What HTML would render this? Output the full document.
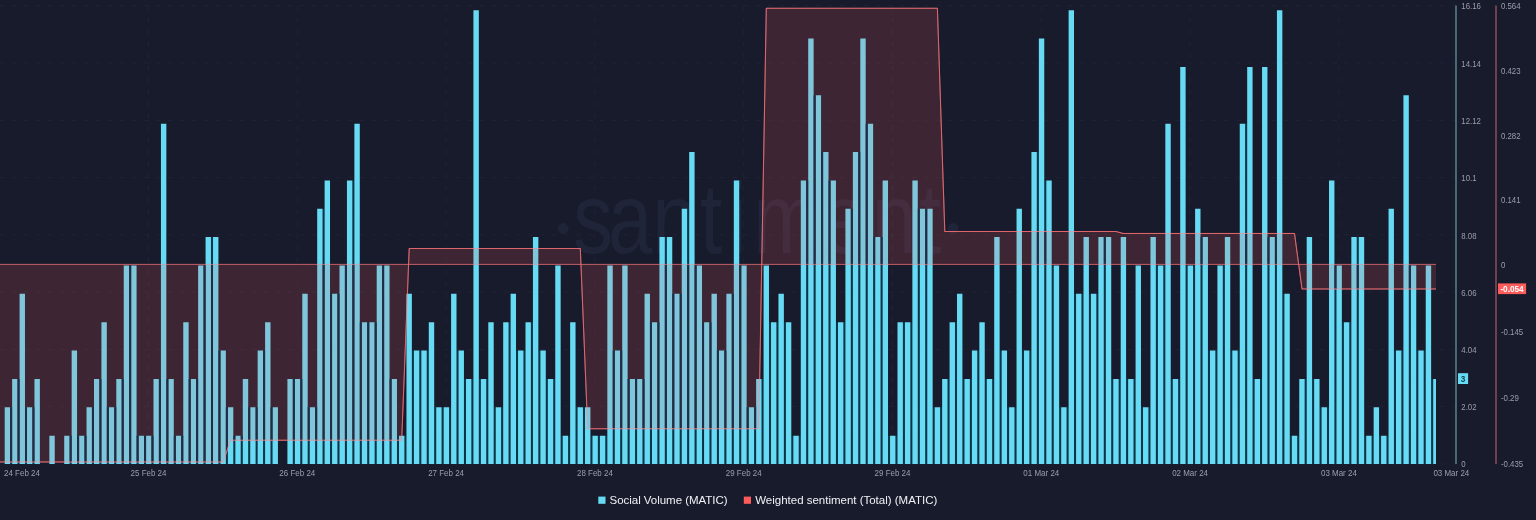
<!DOCTYPE html>
<html lang="en">
<head>
<meta charset="utf-8">
<title>Social Volume and Weighted sentiment (MATIC)</title>
<style>
html,body{margin:0;padding:0;background:#181b2b;}
body{width:1536px;height:520px;overflow:hidden;}
</style>
</head>
<body>
<svg width="1536" height="520" viewBox="0 0 1536 520" style="display:block">
<rect width="1536" height="520" fill="#181b2b"/>
<g stroke="#1f2336" stroke-width="1" stroke-dasharray="5 7" fill="none"><line x1="0" x2="1456" y1="464.0" y2="464.0"/><line x1="0" x2="1456" y1="406.7" y2="406.7"/><line x1="0" x2="1456" y1="349.4" y2="349.4"/><line x1="0" x2="1456" y1="292.1" y2="292.1"/><line x1="0" x2="1456" y1="234.9" y2="234.9"/><line x1="0" x2="1456" y1="177.6" y2="177.6"/><line x1="0" x2="1456" y1="120.3" y2="120.3"/><line x1="0" x2="1456" y1="63.0" y2="63.0"/><line x1="0" x2="1456" y1="5.7" y2="5.7"/><line x1="148.5" x2="148.5" y1="5.5" y2="464"/><line x1="297.3" x2="297.3" y1="5.5" y2="464"/><line x1="446.1" x2="446.1" y1="5.5" y2="464"/><line x1="594.9" x2="594.9" y1="5.5" y2="464"/><line x1="743.7" x2="743.7" y1="5.5" y2="464"/><line x1="892.5" x2="892.5" y1="5.5" y2="464"/><line x1="1041.3" x2="1041.3" y1="5.5" y2="464"/><line x1="1190.1" x2="1190.1" y1="5.5" y2="464"/><line x1="1338.9" x2="1338.9" y1="5.5" y2="464"/></g>
<g id="wm" fill="#202439" font-family="'Liberation Sans', sans-serif"><text x="563.3" y="242" font-size="40" text-anchor="middle">•</text><text transform="scale(0.8,1)" x="716.2 760.0 815.0 875.0 911.2 941.2 1027.5 1090.0 1148.8" y="253" font-size="100">santiment</text><text x="953" y="242" font-size="40" text-anchor="middle">•</text></g>
<path id="gaps" fill="#0a344a" d="M10.10 464.0v-56.72h2.04v56.72zM17.54 464.0v-85.08h2.04v85.08zM24.98 464.0v-56.72h2.04v56.72zM32.42 464.0v-56.72h2.04v56.72zM69.62 464.0v-28.36h2.04v28.36zM77.06 464.0v-28.36h2.04v28.36zM84.50 464.0v-28.36h2.04v28.36zM91.94 464.0v-56.72h2.04v56.72zM99.38 464.0v-85.08h2.04v85.08zM106.82 464.0v-56.72h2.04v56.72zM114.26 464.0v-56.72h2.04v56.72zM121.70 464.0v-85.08h2.04v85.08zM129.14 464.0v-198.52h2.04v198.52zM136.58 464.0v-28.36h2.04v28.36zM144.02 464.0v-28.36h2.04v28.36zM151.46 464.0v-28.36h2.04v28.36zM158.90 464.0v-85.08h2.04v85.08zM166.34 464.0v-85.08h2.04v85.08zM173.78 464.0v-28.36h2.04v28.36zM181.22 464.0v-28.36h2.04v28.36zM188.66 464.0v-85.08h2.04v85.08zM196.10 464.0v-85.08h2.04v85.08zM203.54 464.0v-198.52h2.04v198.52zM210.98 464.0v-226.88h2.04v226.88zM218.42 464.0v-113.44h2.04v113.44zM225.86 464.0v-56.72h2.04v56.72zM233.30 464.0v-28.36h2.04v28.36zM240.74 464.0v-28.36h2.04v28.36zM248.18 464.0v-56.72h2.04v56.72zM255.62 464.0v-56.72h2.04v56.72zM263.06 464.0v-113.44h2.04v113.44zM270.50 464.0v-56.72h2.04v56.72zM292.82 464.0v-85.08h2.04v85.08zM300.26 464.0v-85.08h2.04v85.08zM307.70 464.0v-56.72h2.04v56.72zM315.14 464.0v-56.72h2.04v56.72zM322.58 464.0v-255.24h2.04v255.24zM330.02 464.0v-170.16h2.04v170.16zM337.46 464.0v-170.16h2.04v170.16zM344.90 464.0v-198.52h2.04v198.52zM352.34 464.0v-283.60h2.04v283.60zM359.78 464.0v-141.80h2.04v141.80zM367.22 464.0v-141.80h2.04v141.80zM374.66 464.0v-141.80h2.04v141.80zM382.10 464.0v-198.52h2.04v198.52zM389.54 464.0v-85.08h2.04v85.08zM396.98 464.0v-28.36h2.04v28.36zM404.42 464.0v-28.36h2.04v28.36zM411.86 464.0v-113.44h2.04v113.44zM419.30 464.0v-113.44h2.04v113.44zM426.74 464.0v-113.44h2.04v113.44zM434.18 464.0v-56.72h2.04v56.72zM441.62 464.0v-56.72h2.04v56.72zM449.06 464.0v-56.72h2.04v56.72zM456.50 464.0v-113.44h2.04v113.44zM463.94 464.0v-85.08h2.04v85.08zM471.38 464.0v-85.08h2.04v85.08zM478.82 464.0v-85.08h2.04v85.08zM486.26 464.0v-85.08h2.04v85.08zM493.70 464.0v-56.72h2.04v56.72zM501.14 464.0v-56.72h2.04v56.72zM508.58 464.0v-141.80h2.04v141.80zM516.02 464.0v-113.44h2.04v113.44zM523.46 464.0v-113.44h2.04v113.44zM530.90 464.0v-141.80h2.04v141.80zM538.34 464.0v-113.44h2.04v113.44zM545.78 464.0v-85.08h2.04v85.08zM553.22 464.0v-85.08h2.04v85.08zM560.66 464.0v-28.36h2.04v28.36zM568.10 464.0v-28.36h2.04v28.36zM575.54 464.0v-56.72h2.04v56.72zM582.98 464.0v-56.72h2.04v56.72zM590.42 464.0v-28.36h2.04v28.36zM597.86 464.0v-28.36h2.04v28.36zM605.30 464.0v-28.36h2.04v28.36zM612.74 464.0v-113.44h2.04v113.44zM620.18 464.0v-113.44h2.04v113.44zM627.62 464.0v-85.08h2.04v85.08zM635.06 464.0v-85.08h2.04v85.08zM642.50 464.0v-85.08h2.04v85.08zM649.94 464.0v-141.80h2.04v141.80zM657.38 464.0v-141.80h2.04v141.80zM664.82 464.0v-226.88h2.04v226.88zM672.26 464.0v-170.16h2.04v170.16zM679.70 464.0v-170.16h2.04v170.16zM687.14 464.0v-255.24h2.04v255.24zM694.58 464.0v-198.52h2.04v198.52zM702.02 464.0v-141.80h2.04v141.80zM709.46 464.0v-141.80h2.04v141.80zM716.90 464.0v-113.44h2.04v113.44zM724.34 464.0v-113.44h2.04v113.44zM731.78 464.0v-170.16h2.04v170.16zM739.22 464.0v-198.52h2.04v198.52zM746.66 464.0v-56.72h2.04v56.72zM754.10 464.0v-56.72h2.04v56.72zM761.54 464.0v-85.08h2.04v85.08zM768.98 464.0v-141.80h2.04v141.80zM776.42 464.0v-141.80h2.04v141.80zM783.86 464.0v-141.80h2.04v141.80zM791.30 464.0v-28.36h2.04v28.36zM798.74 464.0v-28.36h2.04v28.36zM806.18 464.0v-283.60h2.04v283.60zM813.62 464.0v-368.68h2.04v368.68zM821.06 464.0v-311.96h2.04v311.96zM828.50 464.0v-283.60h2.04v283.60zM835.94 464.0v-141.80h2.04v141.80zM843.38 464.0v-141.80h2.04v141.80zM850.82 464.0v-255.24h2.04v255.24zM858.26 464.0v-311.96h2.04v311.96zM865.70 464.0v-340.32h2.04v340.32zM873.14 464.0v-226.88h2.04v226.88zM880.58 464.0v-226.88h2.04v226.88zM888.02 464.0v-28.36h2.04v28.36zM895.46 464.0v-28.36h2.04v28.36zM902.90 464.0v-141.80h2.04v141.80zM910.34 464.0v-141.80h2.04v141.80zM917.78 464.0v-255.24h2.04v255.24zM925.22 464.0v-255.24h2.04v255.24zM932.66 464.0v-56.72h2.04v56.72zM940.10 464.0v-56.72h2.04v56.72zM947.54 464.0v-85.08h2.04v85.08zM954.98 464.0v-141.80h2.04v141.80zM962.42 464.0v-85.08h2.04v85.08zM969.86 464.0v-85.08h2.04v85.08zM977.30 464.0v-113.44h2.04v113.44zM984.74 464.0v-85.08h2.04v85.08zM992.18 464.0v-85.08h2.04v85.08zM999.62 464.0v-113.44h2.04v113.44zM1007.06 464.0v-56.72h2.04v56.72zM1014.50 464.0v-56.72h2.04v56.72zM1021.94 464.0v-113.44h2.04v113.44zM1029.38 464.0v-113.44h2.04v113.44zM1036.82 464.0v-311.96h2.04v311.96zM1044.26 464.0v-283.60h2.04v283.60zM1051.70 464.0v-198.52h2.04v198.52zM1059.14 464.0v-56.72h2.04v56.72zM1066.58 464.0v-56.72h2.04v56.72zM1074.02 464.0v-170.16h2.04v170.16zM1081.46 464.0v-170.16h2.04v170.16zM1088.90 464.0v-170.16h2.04v170.16zM1096.34 464.0v-170.16h2.04v170.16zM1103.78 464.0v-226.88h2.04v226.88zM1111.22 464.0v-85.08h2.04v85.08zM1118.66 464.0v-85.08h2.04v85.08zM1126.10 464.0v-85.08h2.04v85.08zM1133.54 464.0v-85.08h2.04v85.08zM1140.98 464.0v-56.72h2.04v56.72zM1148.42 464.0v-56.72h2.04v56.72zM1155.86 464.0v-198.52h2.04v198.52zM1163.30 464.0v-198.52h2.04v198.52zM1170.74 464.0v-85.08h2.04v85.08zM1178.18 464.0v-85.08h2.04v85.08zM1185.62 464.0v-198.52h2.04v198.52zM1193.06 464.0v-198.52h2.04v198.52zM1200.50 464.0v-226.88h2.04v226.88zM1207.94 464.0v-113.44h2.04v113.44zM1215.38 464.0v-113.44h2.04v113.44zM1222.82 464.0v-198.52h2.04v198.52zM1230.26 464.0v-113.44h2.04v113.44zM1237.70 464.0v-113.44h2.04v113.44zM1245.14 464.0v-340.32h2.04v340.32zM1252.58 464.0v-85.08h2.04v85.08zM1260.02 464.0v-85.08h2.04v85.08zM1267.46 464.0v-226.88h2.04v226.88zM1274.90 464.0v-226.88h2.04v226.88zM1282.34 464.0v-170.16h2.04v170.16zM1289.78 464.0v-28.36h2.04v28.36zM1297.22 464.0v-28.36h2.04v28.36zM1304.66 464.0v-85.08h2.04v85.08zM1312.10 464.0v-85.08h2.04v85.08zM1319.54 464.0v-56.72h2.04v56.72zM1326.98 464.0v-56.72h2.04v56.72zM1334.42 464.0v-198.52h2.04v198.52zM1341.86 464.0v-141.80h2.04v141.80zM1349.30 464.0v-141.80h2.04v141.80zM1356.74 464.0v-226.88h2.04v226.88zM1364.18 464.0v-28.36h2.04v28.36zM1371.62 464.0v-28.36h2.04v28.36zM1379.06 464.0v-28.36h2.04v28.36zM1386.50 464.0v-28.36h2.04v28.36zM1393.94 464.0v-113.44h2.04v113.44zM1401.38 464.0v-113.44h2.04v113.44zM1408.82 464.0v-198.52h2.04v198.52zM1416.26 464.0v-113.44h2.04v113.44zM1423.70 464.0v-113.44h2.04v113.44zM1431.14 464.0v-85.08h2.04v85.08z"/>
<clipPath id="nb"><path clip-rule="evenodd" d="M0 0H1536V520H0ZM4.70 464.0v-56.72h5.40v56.72zM12.14 464.0v-85.08h5.40v85.08zM19.58 464.0v-170.16h5.40v170.16zM27.02 464.0v-56.72h5.40v56.72zM34.46 464.0v-85.08h5.40v85.08zM49.34 464.0v-28.36h5.40v28.36zM64.22 464.0v-28.36h5.40v28.36zM71.66 464.0v-113.44h5.40v113.44zM79.10 464.0v-28.36h5.40v28.36zM86.54 464.0v-56.72h5.40v56.72zM93.98 464.0v-85.08h5.40v85.08zM101.42 464.0v-141.80h5.40v141.80zM108.86 464.0v-56.72h5.40v56.72zM116.30 464.0v-85.08h5.40v85.08zM123.74 464.0v-198.52h5.40v198.52zM131.18 464.0v-198.52h5.40v198.52zM138.62 464.0v-28.36h5.40v28.36zM146.06 464.0v-28.36h5.40v28.36zM153.50 464.0v-85.08h5.40v85.08zM160.94 464.0v-340.32h5.40v340.32zM168.38 464.0v-85.08h5.40v85.08zM175.82 464.0v-28.36h5.40v28.36zM183.26 464.0v-141.80h5.40v141.80zM190.70 464.0v-85.08h5.40v85.08zM198.14 464.0v-198.52h5.40v198.52zM205.58 464.0v-226.88h5.40v226.88zM213.02 464.0v-226.88h5.40v226.88zM220.46 464.0v-113.44h5.40v113.44zM227.90 464.0v-56.72h5.40v56.72zM235.34 464.0v-28.36h5.40v28.36zM242.78 464.0v-85.08h5.40v85.08zM250.22 464.0v-56.72h5.40v56.72zM257.66 464.0v-113.44h5.40v113.44zM265.10 464.0v-141.80h5.40v141.80zM272.54 464.0v-56.72h5.40v56.72zM287.42 464.0v-85.08h5.40v85.08zM294.86 464.0v-85.08h5.40v85.08zM302.30 464.0v-170.16h5.40v170.16zM309.74 464.0v-56.72h5.40v56.72zM317.18 464.0v-255.24h5.40v255.24zM324.62 464.0v-283.60h5.40v283.60zM332.06 464.0v-170.16h5.40v170.16zM339.50 464.0v-198.52h5.40v198.52zM346.94 464.0v-283.60h5.40v283.60zM354.38 464.0v-340.32h5.40v340.32zM361.82 464.0v-141.80h5.40v141.80zM369.26 464.0v-141.80h5.40v141.80zM376.70 464.0v-198.52h5.40v198.52zM384.14 464.0v-198.52h5.40v198.52zM391.58 464.0v-85.08h5.40v85.08zM399.02 464.0v-28.36h5.40v28.36zM406.46 464.0v-170.16h5.40v170.16zM413.90 464.0v-113.44h5.40v113.44zM421.34 464.0v-113.44h5.40v113.44zM428.78 464.0v-141.80h5.40v141.80zM436.22 464.0v-56.72h5.40v56.72zM443.66 464.0v-56.72h5.40v56.72zM451.10 464.0v-170.16h5.40v170.16zM458.54 464.0v-113.44h5.40v113.44zM465.98 464.0v-85.08h5.40v85.08zM473.42 464.0v-453.76h5.40v453.76zM480.86 464.0v-85.08h5.40v85.08zM488.30 464.0v-141.80h5.40v141.80zM495.74 464.0v-56.72h5.40v56.72zM503.18 464.0v-141.80h5.40v141.80zM510.62 464.0v-170.16h5.40v170.16zM518.06 464.0v-113.44h5.40v113.44zM525.50 464.0v-141.80h5.40v141.80zM532.94 464.0v-226.88h5.40v226.88zM540.38 464.0v-113.44h5.40v113.44zM547.82 464.0v-85.08h5.40v85.08zM555.26 464.0v-198.52h5.40v198.52zM562.70 464.0v-28.36h5.40v28.36zM570.14 464.0v-141.80h5.40v141.80zM577.58 464.0v-56.72h5.40v56.72zM585.02 464.0v-56.72h5.40v56.72zM592.46 464.0v-28.36h5.40v28.36zM599.90 464.0v-28.36h5.40v28.36zM607.34 464.0v-198.52h5.40v198.52zM614.78 464.0v-113.44h5.40v113.44zM622.22 464.0v-198.52h5.40v198.52zM629.66 464.0v-85.08h5.40v85.08zM637.10 464.0v-85.08h5.40v85.08zM644.54 464.0v-170.16h5.40v170.16zM651.98 464.0v-141.80h5.40v141.80zM659.42 464.0v-226.88h5.40v226.88zM666.86 464.0v-226.88h5.40v226.88zM674.30 464.0v-170.16h5.40v170.16zM681.74 464.0v-255.24h5.40v255.24zM689.18 464.0v-311.96h5.40v311.96zM696.62 464.0v-198.52h5.40v198.52zM704.06 464.0v-141.80h5.40v141.80zM711.50 464.0v-170.16h5.40v170.16zM718.94 464.0v-113.44h5.40v113.44zM726.38 464.0v-170.16h5.40v170.16zM733.82 464.0v-283.60h5.40v283.60zM741.26 464.0v-198.52h5.40v198.52zM748.70 464.0v-56.72h5.40v56.72zM756.14 464.0v-85.08h5.40v85.08zM763.58 464.0v-198.52h5.40v198.52zM771.02 464.0v-141.80h5.40v141.80zM778.46 464.0v-170.16h5.40v170.16zM785.90 464.0v-141.80h5.40v141.80zM793.34 464.0v-28.36h5.40v28.36zM800.78 464.0v-283.60h5.40v283.60zM808.22 464.0v-425.40h5.40v425.40zM815.66 464.0v-368.68h5.40v368.68zM823.10 464.0v-311.96h5.40v311.96zM830.54 464.0v-283.60h5.40v283.60zM837.98 464.0v-141.80h5.40v141.80zM845.42 464.0v-255.24h5.40v255.24zM852.86 464.0v-311.96h5.40v311.96zM860.30 464.0v-425.40h5.40v425.40zM867.74 464.0v-340.32h5.40v340.32zM875.18 464.0v-226.88h5.40v226.88zM882.62 464.0v-283.60h5.40v283.60zM890.06 464.0v-28.36h5.40v28.36zM897.50 464.0v-141.80h5.40v141.80zM904.94 464.0v-141.80h5.40v141.80zM912.38 464.0v-283.60h5.40v283.60zM919.82 464.0v-255.24h5.40v255.24zM927.26 464.0v-255.24h5.40v255.24zM934.70 464.0v-56.72h5.40v56.72zM942.14 464.0v-85.08h5.40v85.08zM949.58 464.0v-141.80h5.40v141.80zM957.02 464.0v-170.16h5.40v170.16zM964.46 464.0v-85.08h5.40v85.08zM971.90 464.0v-113.44h5.40v113.44zM979.34 464.0v-141.80h5.40v141.80zM986.78 464.0v-85.08h5.40v85.08zM994.22 464.0v-226.88h5.40v226.88zM1001.66 464.0v-113.44h5.40v113.44zM1009.10 464.0v-56.72h5.40v56.72zM1016.54 464.0v-255.24h5.40v255.24zM1023.98 464.0v-113.44h5.40v113.44zM1031.42 464.0v-311.96h5.40v311.96zM1038.86 464.0v-425.40h5.40v425.40zM1046.30 464.0v-283.60h5.40v283.60zM1053.74 464.0v-198.52h5.40v198.52zM1061.18 464.0v-56.72h5.40v56.72zM1068.62 464.0v-453.76h5.40v453.76zM1076.06 464.0v-170.16h5.40v170.16zM1083.50 464.0v-226.88h5.40v226.88zM1090.94 464.0v-170.16h5.40v170.16zM1098.38 464.0v-226.88h5.40v226.88zM1105.82 464.0v-226.88h5.40v226.88zM1113.26 464.0v-85.08h5.40v85.08zM1120.70 464.0v-226.88h5.40v226.88zM1128.14 464.0v-85.08h5.40v85.08zM1135.58 464.0v-198.52h5.40v198.52zM1143.02 464.0v-56.72h5.40v56.72zM1150.46 464.0v-226.88h5.40v226.88zM1157.90 464.0v-198.52h5.40v198.52zM1165.34 464.0v-340.32h5.40v340.32zM1172.78 464.0v-85.08h5.40v85.08zM1180.22 464.0v-397.04h5.40v397.04zM1187.66 464.0v-198.52h5.40v198.52zM1195.10 464.0v-255.24h5.40v255.24zM1202.54 464.0v-226.88h5.40v226.88zM1209.98 464.0v-113.44h5.40v113.44zM1217.42 464.0v-198.52h5.40v198.52zM1224.86 464.0v-226.88h5.40v226.88zM1232.30 464.0v-113.44h5.40v113.44zM1239.74 464.0v-340.32h5.40v340.32zM1247.18 464.0v-397.04h5.40v397.04zM1254.62 464.0v-85.08h5.40v85.08zM1262.06 464.0v-397.04h5.40v397.04zM1269.50 464.0v-226.88h5.40v226.88zM1276.94 464.0v-453.76h5.40v453.76zM1284.38 464.0v-170.16h5.40v170.16zM1291.82 464.0v-28.36h5.40v28.36zM1299.26 464.0v-85.08h5.40v85.08zM1306.70 464.0v-226.88h5.40v226.88zM1314.14 464.0v-85.08h5.40v85.08zM1321.58 464.0v-56.72h5.40v56.72zM1329.02 464.0v-283.60h5.40v283.60zM1336.46 464.0v-198.52h5.40v198.52zM1343.90 464.0v-141.80h5.40v141.80zM1351.34 464.0v-226.88h5.40v226.88zM1358.78 464.0v-226.88h5.40v226.88zM1366.22 464.0v-28.36h5.40v28.36zM1373.66 464.0v-56.72h5.40v56.72zM1381.10 464.0v-28.36h5.40v28.36zM1388.54 464.0v-255.24h5.40v255.24zM1395.98 464.0v-113.44h5.40v113.44zM1403.42 464.0v-368.68h5.40v368.68zM1410.86 464.0v-198.52h5.40v198.52zM1418.30 464.0v-113.44h5.40v113.44zM1425.74 464.0v-198.52h5.40v198.52zM1433.18 464.0v-85.08h2.82v85.08z"/></clipPath>
<path id="bars" fill="#68dbf4" d="M4.70 464.0v-56.72h5.40v56.72zM12.14 464.0v-85.08h5.40v85.08zM19.58 464.0v-170.16h5.40v170.16zM27.02 464.0v-56.72h5.40v56.72zM34.46 464.0v-85.08h5.40v85.08zM49.34 464.0v-28.36h5.40v28.36zM64.22 464.0v-28.36h5.40v28.36zM71.66 464.0v-113.44h5.40v113.44zM79.10 464.0v-28.36h5.40v28.36zM86.54 464.0v-56.72h5.40v56.72zM93.98 464.0v-85.08h5.40v85.08zM101.42 464.0v-141.80h5.40v141.80zM108.86 464.0v-56.72h5.40v56.72zM116.30 464.0v-85.08h5.40v85.08zM123.74 464.0v-198.52h5.40v198.52zM131.18 464.0v-198.52h5.40v198.52zM138.62 464.0v-28.36h5.40v28.36zM146.06 464.0v-28.36h5.40v28.36zM153.50 464.0v-85.08h5.40v85.08zM160.94 464.0v-340.32h5.40v340.32zM168.38 464.0v-85.08h5.40v85.08zM175.82 464.0v-28.36h5.40v28.36zM183.26 464.0v-141.80h5.40v141.80zM190.70 464.0v-85.08h5.40v85.08zM198.14 464.0v-198.52h5.40v198.52zM205.58 464.0v-226.88h5.40v226.88zM213.02 464.0v-226.88h5.40v226.88zM220.46 464.0v-113.44h5.40v113.44zM227.90 464.0v-56.72h5.40v56.72zM235.34 464.0v-28.36h5.40v28.36zM242.78 464.0v-85.08h5.40v85.08zM250.22 464.0v-56.72h5.40v56.72zM257.66 464.0v-113.44h5.40v113.44zM265.10 464.0v-141.80h5.40v141.80zM272.54 464.0v-56.72h5.40v56.72zM287.42 464.0v-85.08h5.40v85.08zM294.86 464.0v-85.08h5.40v85.08zM302.30 464.0v-170.16h5.40v170.16zM309.74 464.0v-56.72h5.40v56.72zM317.18 464.0v-255.24h5.40v255.24zM324.62 464.0v-283.60h5.40v283.60zM332.06 464.0v-170.16h5.40v170.16zM339.50 464.0v-198.52h5.40v198.52zM346.94 464.0v-283.60h5.40v283.60zM354.38 464.0v-340.32h5.40v340.32zM361.82 464.0v-141.80h5.40v141.80zM369.26 464.0v-141.80h5.40v141.80zM376.70 464.0v-198.52h5.40v198.52zM384.14 464.0v-198.52h5.40v198.52zM391.58 464.0v-85.08h5.40v85.08zM399.02 464.0v-28.36h5.40v28.36zM406.46 464.0v-170.16h5.40v170.16zM413.90 464.0v-113.44h5.40v113.44zM421.34 464.0v-113.44h5.40v113.44zM428.78 464.0v-141.80h5.40v141.80zM436.22 464.0v-56.72h5.40v56.72zM443.66 464.0v-56.72h5.40v56.72zM451.10 464.0v-170.16h5.40v170.16zM458.54 464.0v-113.44h5.40v113.44zM465.98 464.0v-85.08h5.40v85.08zM473.42 464.0v-453.76h5.40v453.76zM480.86 464.0v-85.08h5.40v85.08zM488.30 464.0v-141.80h5.40v141.80zM495.74 464.0v-56.72h5.40v56.72zM503.18 464.0v-141.80h5.40v141.80zM510.62 464.0v-170.16h5.40v170.16zM518.06 464.0v-113.44h5.40v113.44zM525.50 464.0v-141.80h5.40v141.80zM532.94 464.0v-226.88h5.40v226.88zM540.38 464.0v-113.44h5.40v113.44zM547.82 464.0v-85.08h5.40v85.08zM555.26 464.0v-198.52h5.40v198.52zM562.70 464.0v-28.36h5.40v28.36zM570.14 464.0v-141.80h5.40v141.80zM577.58 464.0v-56.72h5.40v56.72zM585.02 464.0v-56.72h5.40v56.72zM592.46 464.0v-28.36h5.40v28.36zM599.90 464.0v-28.36h5.40v28.36zM607.34 464.0v-198.52h5.40v198.52zM614.78 464.0v-113.44h5.40v113.44zM622.22 464.0v-198.52h5.40v198.52zM629.66 464.0v-85.08h5.40v85.08zM637.10 464.0v-85.08h5.40v85.08zM644.54 464.0v-170.16h5.40v170.16zM651.98 464.0v-141.80h5.40v141.80zM659.42 464.0v-226.88h5.40v226.88zM666.86 464.0v-226.88h5.40v226.88zM674.30 464.0v-170.16h5.40v170.16zM681.74 464.0v-255.24h5.40v255.24zM689.18 464.0v-311.96h5.40v311.96zM696.62 464.0v-198.52h5.40v198.52zM704.06 464.0v-141.80h5.40v141.80zM711.50 464.0v-170.16h5.40v170.16zM718.94 464.0v-113.44h5.40v113.44zM726.38 464.0v-170.16h5.40v170.16zM733.82 464.0v-283.60h5.40v283.60zM741.26 464.0v-198.52h5.40v198.52zM748.70 464.0v-56.72h5.40v56.72zM756.14 464.0v-85.08h5.40v85.08zM763.58 464.0v-198.52h5.40v198.52zM771.02 464.0v-141.80h5.40v141.80zM778.46 464.0v-170.16h5.40v170.16zM785.90 464.0v-141.80h5.40v141.80zM793.34 464.0v-28.36h5.40v28.36zM800.78 464.0v-283.60h5.40v283.60zM808.22 464.0v-425.40h5.40v425.40zM815.66 464.0v-368.68h5.40v368.68zM823.10 464.0v-311.96h5.40v311.96zM830.54 464.0v-283.60h5.40v283.60zM837.98 464.0v-141.80h5.40v141.80zM845.42 464.0v-255.24h5.40v255.24zM852.86 464.0v-311.96h5.40v311.96zM860.30 464.0v-425.40h5.40v425.40zM867.74 464.0v-340.32h5.40v340.32zM875.18 464.0v-226.88h5.40v226.88zM882.62 464.0v-283.60h5.40v283.60zM890.06 464.0v-28.36h5.40v28.36zM897.50 464.0v-141.80h5.40v141.80zM904.94 464.0v-141.80h5.40v141.80zM912.38 464.0v-283.60h5.40v283.60zM919.82 464.0v-255.24h5.40v255.24zM927.26 464.0v-255.24h5.40v255.24zM934.70 464.0v-56.72h5.40v56.72zM942.14 464.0v-85.08h5.40v85.08zM949.58 464.0v-141.80h5.40v141.80zM957.02 464.0v-170.16h5.40v170.16zM964.46 464.0v-85.08h5.40v85.08zM971.90 464.0v-113.44h5.40v113.44zM979.34 464.0v-141.80h5.40v141.80zM986.78 464.0v-85.08h5.40v85.08zM994.22 464.0v-226.88h5.40v226.88zM1001.66 464.0v-113.44h5.40v113.44zM1009.10 464.0v-56.72h5.40v56.72zM1016.54 464.0v-255.24h5.40v255.24zM1023.98 464.0v-113.44h5.40v113.44zM1031.42 464.0v-311.96h5.40v311.96zM1038.86 464.0v-425.40h5.40v425.40zM1046.30 464.0v-283.60h5.40v283.60zM1053.74 464.0v-198.52h5.40v198.52zM1061.18 464.0v-56.72h5.40v56.72zM1068.62 464.0v-453.76h5.40v453.76zM1076.06 464.0v-170.16h5.40v170.16zM1083.50 464.0v-226.88h5.40v226.88zM1090.94 464.0v-170.16h5.40v170.16zM1098.38 464.0v-226.88h5.40v226.88zM1105.82 464.0v-226.88h5.40v226.88zM1113.26 464.0v-85.08h5.40v85.08zM1120.70 464.0v-226.88h5.40v226.88zM1128.14 464.0v-85.08h5.40v85.08zM1135.58 464.0v-198.52h5.40v198.52zM1143.02 464.0v-56.72h5.40v56.72zM1150.46 464.0v-226.88h5.40v226.88zM1157.90 464.0v-198.52h5.40v198.52zM1165.34 464.0v-340.32h5.40v340.32zM1172.78 464.0v-85.08h5.40v85.08zM1180.22 464.0v-397.04h5.40v397.04zM1187.66 464.0v-198.52h5.40v198.52zM1195.10 464.0v-255.24h5.40v255.24zM1202.54 464.0v-226.88h5.40v226.88zM1209.98 464.0v-113.44h5.40v113.44zM1217.42 464.0v-198.52h5.40v198.52zM1224.86 464.0v-226.88h5.40v226.88zM1232.30 464.0v-113.44h5.40v113.44zM1239.74 464.0v-340.32h5.40v340.32zM1247.18 464.0v-397.04h5.40v397.04zM1254.62 464.0v-85.08h5.40v85.08zM1262.06 464.0v-397.04h5.40v397.04zM1269.50 464.0v-226.88h5.40v226.88zM1276.94 464.0v-453.76h5.40v453.76zM1284.38 464.0v-170.16h5.40v170.16zM1291.82 464.0v-28.36h5.40v28.36zM1299.26 464.0v-85.08h5.40v85.08zM1306.70 464.0v-226.88h5.40v226.88zM1314.14 464.0v-85.08h5.40v85.08zM1321.58 464.0v-56.72h5.40v56.72zM1329.02 464.0v-283.60h5.40v283.60zM1336.46 464.0v-198.52h5.40v198.52zM1343.90 464.0v-141.80h5.40v141.80zM1351.34 464.0v-226.88h5.40v226.88zM1358.78 464.0v-226.88h5.40v226.88zM1366.22 464.0v-28.36h5.40v28.36zM1373.66 464.0v-56.72h5.40v56.72zM1381.10 464.0v-28.36h5.40v28.36zM1388.54 464.0v-255.24h5.40v255.24zM1395.98 464.0v-113.44h5.40v113.44zM1403.42 464.0v-368.68h5.40v368.68zM1410.86 464.0v-198.52h5.40v198.52zM1418.30 464.0v-113.44h5.40v113.44zM1425.74 464.0v-198.52h5.40v198.52zM1433.18 464.0v-85.08h2.82v85.08z"/>
<clipPath id="ac"><polygon points="0,264.4 0.0,462.0 223.2,462.0 230.6,440.2 401.7,440.2 409.2,248.5 580.3,248.5 587.7,428.8 758.8,428.8 766.3,8.3 937.4,8.3 944.8,231.5 1116.0,231.5 1123.4,233.4 1294.5,233.4 1302.0,289.0 1436.0,289.0 1436.0,264.4"/></clipPath>
<polygon points="0,264.4 0.0,462.0 223.2,462.0 230.6,440.2 401.7,440.2 409.2,248.5 580.3,248.5 587.7,428.8 758.8,428.8 766.3,8.3 937.4,8.3 944.8,231.5 1116.0,231.5 1123.4,233.4 1294.5,233.4 1302.0,289.0 1436.0,289.0 1436.0,264.4" fill="#ff5b5b" fill-opacity="0.16"/>
<path fill="#1f2d46" clip-path="url(#ac)" d="M10.10 464.0v-56.72h2.04v56.72zM17.54 464.0v-85.08h2.04v85.08zM24.98 464.0v-56.72h2.04v56.72zM32.42 464.0v-56.72h2.04v56.72zM69.62 464.0v-28.36h2.04v28.36zM77.06 464.0v-28.36h2.04v28.36zM84.50 464.0v-28.36h2.04v28.36zM91.94 464.0v-56.72h2.04v56.72zM99.38 464.0v-85.08h2.04v85.08zM106.82 464.0v-56.72h2.04v56.72zM114.26 464.0v-56.72h2.04v56.72zM121.70 464.0v-85.08h2.04v85.08zM129.14 464.0v-198.52h2.04v198.52zM136.58 464.0v-28.36h2.04v28.36zM144.02 464.0v-28.36h2.04v28.36zM151.46 464.0v-28.36h2.04v28.36zM158.90 464.0v-85.08h2.04v85.08zM166.34 464.0v-85.08h2.04v85.08zM173.78 464.0v-28.36h2.04v28.36zM181.22 464.0v-28.36h2.04v28.36zM188.66 464.0v-85.08h2.04v85.08zM196.10 464.0v-85.08h2.04v85.08zM203.54 464.0v-198.52h2.04v198.52zM210.98 464.0v-226.88h2.04v226.88zM218.42 464.0v-113.44h2.04v113.44zM225.86 464.0v-56.72h2.04v56.72zM233.30 464.0v-28.36h2.04v28.36zM240.74 464.0v-28.36h2.04v28.36zM248.18 464.0v-56.72h2.04v56.72zM255.62 464.0v-56.72h2.04v56.72zM263.06 464.0v-113.44h2.04v113.44zM270.50 464.0v-56.72h2.04v56.72zM292.82 464.0v-85.08h2.04v85.08zM300.26 464.0v-85.08h2.04v85.08zM307.70 464.0v-56.72h2.04v56.72zM315.14 464.0v-56.72h2.04v56.72zM322.58 464.0v-255.24h2.04v255.24zM330.02 464.0v-170.16h2.04v170.16zM337.46 464.0v-170.16h2.04v170.16zM344.90 464.0v-198.52h2.04v198.52zM352.34 464.0v-283.60h2.04v283.60zM359.78 464.0v-141.80h2.04v141.80zM367.22 464.0v-141.80h2.04v141.80zM374.66 464.0v-141.80h2.04v141.80zM382.10 464.0v-198.52h2.04v198.52zM389.54 464.0v-85.08h2.04v85.08zM396.98 464.0v-28.36h2.04v28.36zM404.42 464.0v-28.36h2.04v28.36zM411.86 464.0v-113.44h2.04v113.44zM419.30 464.0v-113.44h2.04v113.44zM426.74 464.0v-113.44h2.04v113.44zM434.18 464.0v-56.72h2.04v56.72zM441.62 464.0v-56.72h2.04v56.72zM449.06 464.0v-56.72h2.04v56.72zM456.50 464.0v-113.44h2.04v113.44zM463.94 464.0v-85.08h2.04v85.08zM471.38 464.0v-85.08h2.04v85.08zM478.82 464.0v-85.08h2.04v85.08zM486.26 464.0v-85.08h2.04v85.08zM493.70 464.0v-56.72h2.04v56.72zM501.14 464.0v-56.72h2.04v56.72zM508.58 464.0v-141.80h2.04v141.80zM516.02 464.0v-113.44h2.04v113.44zM523.46 464.0v-113.44h2.04v113.44zM530.90 464.0v-141.80h2.04v141.80zM538.34 464.0v-113.44h2.04v113.44zM545.78 464.0v-85.08h2.04v85.08zM553.22 464.0v-85.08h2.04v85.08zM560.66 464.0v-28.36h2.04v28.36zM568.10 464.0v-28.36h2.04v28.36zM575.54 464.0v-56.72h2.04v56.72zM582.98 464.0v-56.72h2.04v56.72zM590.42 464.0v-28.36h2.04v28.36zM597.86 464.0v-28.36h2.04v28.36zM605.30 464.0v-28.36h2.04v28.36zM612.74 464.0v-113.44h2.04v113.44zM620.18 464.0v-113.44h2.04v113.44zM627.62 464.0v-85.08h2.04v85.08zM635.06 464.0v-85.08h2.04v85.08zM642.50 464.0v-85.08h2.04v85.08zM649.94 464.0v-141.80h2.04v141.80zM657.38 464.0v-141.80h2.04v141.80zM664.82 464.0v-226.88h2.04v226.88zM672.26 464.0v-170.16h2.04v170.16zM679.70 464.0v-170.16h2.04v170.16zM687.14 464.0v-255.24h2.04v255.24zM694.58 464.0v-198.52h2.04v198.52zM702.02 464.0v-141.80h2.04v141.80zM709.46 464.0v-141.80h2.04v141.80zM716.90 464.0v-113.44h2.04v113.44zM724.34 464.0v-113.44h2.04v113.44zM731.78 464.0v-170.16h2.04v170.16zM739.22 464.0v-198.52h2.04v198.52zM746.66 464.0v-56.72h2.04v56.72zM754.10 464.0v-56.72h2.04v56.72zM761.54 464.0v-85.08h2.04v85.08zM768.98 464.0v-141.80h2.04v141.80zM776.42 464.0v-141.80h2.04v141.80zM783.86 464.0v-141.80h2.04v141.80zM791.30 464.0v-28.36h2.04v28.36zM798.74 464.0v-28.36h2.04v28.36zM806.18 464.0v-283.60h2.04v283.60zM813.62 464.0v-368.68h2.04v368.68zM821.06 464.0v-311.96h2.04v311.96zM828.50 464.0v-283.60h2.04v283.60zM835.94 464.0v-141.80h2.04v141.80zM843.38 464.0v-141.80h2.04v141.80zM850.82 464.0v-255.24h2.04v255.24zM858.26 464.0v-311.96h2.04v311.96zM865.70 464.0v-340.32h2.04v340.32zM873.14 464.0v-226.88h2.04v226.88zM880.58 464.0v-226.88h2.04v226.88zM888.02 464.0v-28.36h2.04v28.36zM895.46 464.0v-28.36h2.04v28.36zM902.90 464.0v-141.80h2.04v141.80zM910.34 464.0v-141.80h2.04v141.80zM917.78 464.0v-255.24h2.04v255.24zM925.22 464.0v-255.24h2.04v255.24zM932.66 464.0v-56.72h2.04v56.72zM940.10 464.0v-56.72h2.04v56.72zM947.54 464.0v-85.08h2.04v85.08zM954.98 464.0v-141.80h2.04v141.80zM962.42 464.0v-85.08h2.04v85.08zM969.86 464.0v-85.08h2.04v85.08zM977.30 464.0v-113.44h2.04v113.44zM984.74 464.0v-85.08h2.04v85.08zM992.18 464.0v-85.08h2.04v85.08zM999.62 464.0v-113.44h2.04v113.44zM1007.06 464.0v-56.72h2.04v56.72zM1014.50 464.0v-56.72h2.04v56.72zM1021.94 464.0v-113.44h2.04v113.44zM1029.38 464.0v-113.44h2.04v113.44zM1036.82 464.0v-311.96h2.04v311.96zM1044.26 464.0v-283.60h2.04v283.60zM1051.70 464.0v-198.52h2.04v198.52zM1059.14 464.0v-56.72h2.04v56.72zM1066.58 464.0v-56.72h2.04v56.72zM1074.02 464.0v-170.16h2.04v170.16zM1081.46 464.0v-170.16h2.04v170.16zM1088.90 464.0v-170.16h2.04v170.16zM1096.34 464.0v-170.16h2.04v170.16zM1103.78 464.0v-226.88h2.04v226.88zM1111.22 464.0v-85.08h2.04v85.08zM1118.66 464.0v-85.08h2.04v85.08zM1126.10 464.0v-85.08h2.04v85.08zM1133.54 464.0v-85.08h2.04v85.08zM1140.98 464.0v-56.72h2.04v56.72zM1148.42 464.0v-56.72h2.04v56.72zM1155.86 464.0v-198.52h2.04v198.52zM1163.30 464.0v-198.52h2.04v198.52zM1170.74 464.0v-85.08h2.04v85.08zM1178.18 464.0v-85.08h2.04v85.08zM1185.62 464.0v-198.52h2.04v198.52zM1193.06 464.0v-198.52h2.04v198.52zM1200.50 464.0v-226.88h2.04v226.88zM1207.94 464.0v-113.44h2.04v113.44zM1215.38 464.0v-113.44h2.04v113.44zM1222.82 464.0v-198.52h2.04v198.52zM1230.26 464.0v-113.44h2.04v113.44zM1237.70 464.0v-113.44h2.04v113.44zM1245.14 464.0v-340.32h2.04v340.32zM1252.58 464.0v-85.08h2.04v85.08zM1260.02 464.0v-85.08h2.04v85.08zM1267.46 464.0v-226.88h2.04v226.88zM1274.90 464.0v-226.88h2.04v226.88zM1282.34 464.0v-170.16h2.04v170.16zM1289.78 464.0v-28.36h2.04v28.36zM1297.22 464.0v-28.36h2.04v28.36zM1304.66 464.0v-85.08h2.04v85.08zM1312.10 464.0v-85.08h2.04v85.08zM1319.54 464.0v-56.72h2.04v56.72zM1326.98 464.0v-56.72h2.04v56.72zM1334.42 464.0v-198.52h2.04v198.52zM1341.86 464.0v-141.80h2.04v141.80zM1349.30 464.0v-141.80h2.04v141.80zM1356.74 464.0v-226.88h2.04v226.88zM1364.18 464.0v-28.36h2.04v28.36zM1371.62 464.0v-28.36h2.04v28.36zM1379.06 464.0v-28.36h2.04v28.36zM1386.50 464.0v-28.36h2.04v28.36zM1393.94 464.0v-113.44h2.04v113.44zM1401.38 464.0v-113.44h2.04v113.44zM1408.82 464.0v-198.52h2.04v198.52zM1416.26 464.0v-113.44h2.04v113.44zM1423.70 464.0v-113.44h2.04v113.44zM1431.14 464.0v-85.08h2.04v85.08z"/>
<line x1="0" x2="1436.0" y1="264.4" y2="264.4" stroke="#f58f98" stroke-width="1" stroke-opacity="0.55"/>
<polyline points="0.0,462.0 223.2,462.0 230.6,440.2 401.7,440.2 409.2,248.5 580.3,248.5 587.7,428.8 758.8,428.8 766.3,8.3 937.4,8.3 944.8,231.5 1116.0,231.5 1123.4,233.4 1294.5,233.4 1302.0,289.0 1436.0,289.0" fill="none" stroke="#f58f98" stroke-width="1.05" stroke-opacity="0.72" stroke-linejoin="round"/>
<g clip-path="url(#nb)"><line x1="0" x2="1436.0" y1="264.4" y2="264.4" stroke="#ff5b5b" stroke-width="1" stroke-opacity="0.35"/><polyline points="0.0,462.0 223.2,462.0 230.6,440.2 401.7,440.2 409.2,248.5 580.3,248.5 587.7,428.8 758.8,428.8 766.3,8.3 937.4,8.3 944.8,231.5 1116.0,231.5 1123.4,233.4 1294.5,233.4 1302.0,289.0 1436.0,289.0" fill="none" stroke="#ff5b5b" stroke-width="1" stroke-opacity="0.5" stroke-linejoin="round"/></g>
<line x1="1456" x2="1456" y1="5.5" y2="464" stroke="#5c8a98" stroke-width="1.4"/>
<line x1="1496" x2="1496" y1="5.5" y2="464" stroke="#984e5c" stroke-width="1.4"/>
<g font-family="'Liberation Sans', sans-serif" font-size="8.4" fill="#9a9eae"><text transform="translate(1461.3,466.7) scale(0.93,1)">0</text><text transform="translate(1461.3,410.4) scale(0.93,1)">2.02</text><text transform="translate(1461.3,353.1) scale(0.93,1)">4.04</text><text transform="translate(1461.3,295.8) scale(0.93,1)">6.06</text><text transform="translate(1461.3,238.6) scale(0.93,1)">8.08</text><text transform="translate(1461.3,181.3) scale(0.93,1)">10.1</text><text transform="translate(1461.3,124.0) scale(0.93,1)">12.12</text><text transform="translate(1461.3,66.7) scale(0.93,1)">14.14</text><text transform="translate(1461.3,9.2) scale(0.93,1)">16.16</text><text transform="translate(1501,9.2) scale(0.93,1)">0.564</text><text transform="translate(1501,73.9) scale(0.93,1)">0.423</text><text transform="translate(1501,138.6) scale(0.93,1)">0.282</text><text transform="translate(1501,203.4) scale(0.93,1)">0.141</text><text transform="translate(1501,268.1) scale(0.93,1)">0</text><text transform="translate(1501,334.7) scale(0.93,1)">-0.145</text><text transform="translate(1501,401.3) scale(0.93,1)">-0.29</text><text transform="translate(1501,466.9) scale(0.93,1)">-0.435</text><text transform="translate(4,476.2) scale(0.95,1)">24 Feb 24</text><text transform="translate(148.5,476.2) scale(0.95,1)" text-anchor="middle">25 Feb 24</text><text transform="translate(297.3,476.2) scale(0.95,1)" text-anchor="middle">26 Feb 24</text><text transform="translate(446.1,476.2) scale(0.95,1)" text-anchor="middle">27 Feb 24</text><text transform="translate(594.9,476.2) scale(0.95,1)" text-anchor="middle">28 Feb 24</text><text transform="translate(743.7,476.2) scale(0.95,1)" text-anchor="middle">29 Feb 24</text><text transform="translate(892.5,476.2) scale(0.95,1)" text-anchor="middle">29 Feb 24</text><text transform="translate(1041.3,476.2) scale(0.95,1)" text-anchor="middle">01 Mar 24</text><text transform="translate(1190.1,476.2) scale(0.95,1)" text-anchor="middle">02 Mar 24</text><text transform="translate(1338.9,476.2) scale(0.95,1)" text-anchor="middle">03 Mar 24</text><text transform="translate(1469.3,476.2) scale(0.95,1)" text-anchor="end">03 Mar 24</text></g>
<rect x="1458" y="373.2" width="10.1" height="10.8" fill="#68dbf4"/>
<text x="1463" y="382.4" font-family="'Liberation Sans', sans-serif" font-size="8.2" font-weight="bold" fill="#12404e" text-anchor="middle">3</text>
<rect x="1498" y="283.4" width="28.1" height="10.7" fill="#ff5b5b"/>
<text x="1512" y="291.8" font-family="'Liberation Sans', sans-serif" font-size="8.2" font-weight="bold" fill="#ffffff" text-anchor="middle">-0.054</text>
<rect x="598.3" y="496.6" width="7.2" height="7.2" fill="#68dbf4"/>
<rect x="743.8" y="496.6" width="7.2" height="7.2" fill="#ff5b5b"/>
<g font-family="'Liberation Sans', sans-serif" font-size="11.5" fill="#f1f2f6"><text x="609.6" y="504.3" textLength="118" lengthAdjust="spacing">Social Volume (MATIC)</text><text x="755.2" y="504.3" textLength="182.1" lengthAdjust="spacing">Weighted sentiment (Total) (MATIC)</text></g>
</svg>
</body>
</html>
